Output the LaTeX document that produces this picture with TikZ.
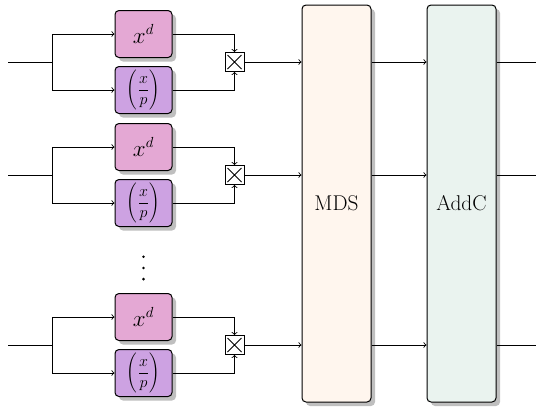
\documentclass[tikz,border=0pt]{standalone}
\usetikzlibrary{shadows,calc}
\definecolor{powc}{HTML}{E4A8D4}
\definecolor{legc}{HTML}{CDA2E2}
\definecolor{mdsc}{HTML}{FFF6EE}
\definecolor{addc}{HTML}{EAF3EF}
\begin{document}
\begin{tikzpicture}[x=0.75pt,y=-0.75pt,
  every node/.style={font=\fontsize{16}{19}\selectfont},
  shad/.style={drop shadow={shadow xshift=3pt,shadow yshift=-3pt,fill=black!25,opacity=1}},
  fbox/.style={draw=black,line width=0.75pt,rounded corners=3pt,shad,inner sep=0pt,
    minimum width=42.75pt,minimum height=35.25pt},
  powbox/.style={fbox,fill=powc},
  legbox/.style={fbox,fill=legc,font=\fontsize{13}{16}\selectfont},
  bigbox/.style={draw=black,line width=0.75pt,rounded corners=3pt,shad,inner sep=0pt,
    minimum width=51.75pt,minimum height=297.75pt},
  mult/.style={draw=black,line width=0.6pt,fill=white,minimum size=14.25pt,inner sep=0pt,
    path picture={\draw[line width=0.6pt]
      ($(path picture bounding box.north west)+(2.5,2.5)$) -- ($(path picture bounding box.south east)+(-2.5,-2.5)$)
      ($(path picture bounding box.north east)+(-2.5,2.5)$) -- ($(path picture bounding box.south west)+(2.5,-2.5)$);}},
  conn/.style={draw=black,line width=0.65pt},
  arr/.style={conn,->}
]
\useasboundingbox (0,0) rectangle (536,408);

\node[bigbox,fill=mdsc] (mds) at (336.5,203.5) {MDS};
\node[bigbox,fill=addc] (addc) at (461.5,203.5) {AddC};

\foreach \i/\r in {1/62,2/175,3/345}{
  \coordinate (in\i) at (8,\r);
  \coordinate (s\i) at (52,\r);
  \coordinate (out\i) at (536,\r);
  \node[powbox] (xd\i) at (143.5,\r-28) {$x^d$};
  \node[legbox] (xp\i) at (143.5,\r+28) {$\displaystyle\left(\frac{x}{p}\right)$};
  \node[mult] (m\i) at (234.5,\r) {};
  \draw[conn] (in\i) -- (s\i);
  \draw[arr] (s\i) |- (xd\i.west);
  \draw[arr] (s\i) |- (xp\i.west);
  \draw[arr] (xd\i.east) -| (m\i.north);
  \draw[arr] (xp\i.east) -| (m\i.south);
  \draw[arr] (m\i.east) -- (m\i -| mds.west);
  \draw[arr] (m\i -| mds.east) -- (m\i -| addc.west);
  \draw[conn] (m\i -| addc.east) -- (out\i);
}

\fill (143.5,256.7) circle (1.4);
\fill (143.5,267.9) circle (1.4);
\fill (143.5,279.1) circle (1.4);
\end{tikzpicture}
\end{document}
